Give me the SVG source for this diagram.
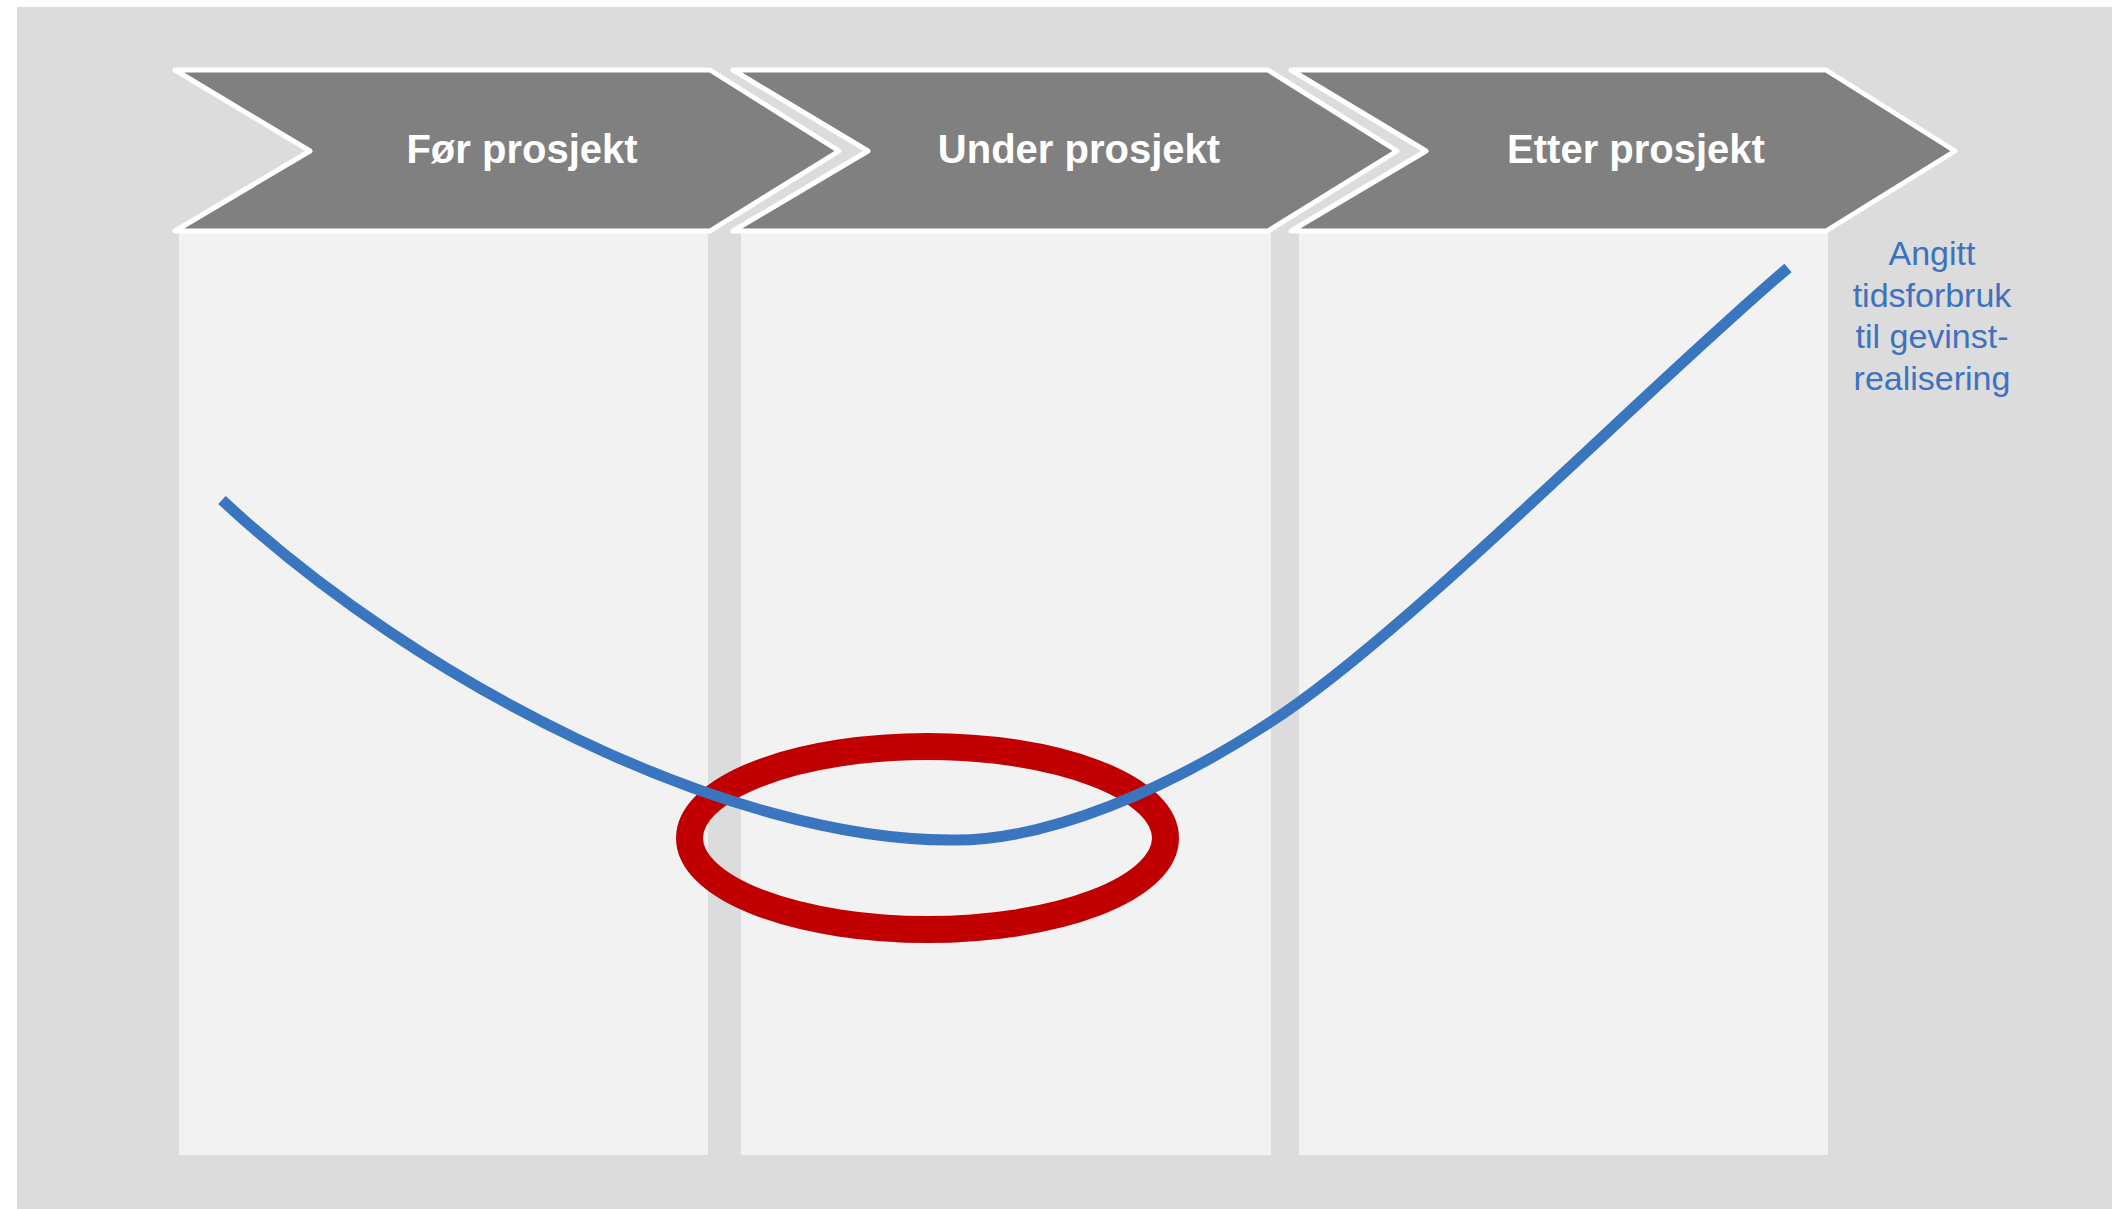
<svg xmlns="http://www.w3.org/2000/svg" width="2112" height="1209" viewBox="0 0 2112 1209">
<style>
.col{fill:#f2f2f2}
.chev{fill:#808080;stroke:#ffffff;stroke-width:5;stroke-linejoin:round}
.lbl{font-family:"Liberation Sans",Arial,sans-serif;font-weight:bold;font-size:40px;fill:#ffffff;text-anchor:middle}
.note{font-family:"Liberation Sans",Arial,sans-serif;font-size:34px;fill:#3d72c0;text-anchor:middle}
</style>
<rect x="0" y="0" width="2112" height="1209" fill="#ffffff"/>
<rect x="17" y="7" width="2095" height="1202" fill="#dcdcdc"/>
<g id="col1"><rect class="col" x="179" y="231" width="529" height="924"/></g>
<g id="col2"><rect class="col" x="741" y="231" width="530" height="924"/></g>
<g id="col3"><rect class="col" x="1299" y="231" width="529" height="924"/></g>
<g id="phase1">
<path class="chev" d="M175,70 L710,70 L839,151 L710,231 L175,231 L310,151 Z"/>
<text class="lbl" x="522" y="163">Før prosjekt</text>
</g>
<g id="phase2">
<path class="chev" d="M733,70 L1268,70 L1397,151 L1268,231 L733,231 L868,151 Z"/>
<text class="lbl" x="1079" y="163">Under prosjekt</text>
</g>
<g id="phase3">
<path class="chev" d="M1291,70 L1826,70 L1955,151 L1826,231 L1291,231 L1426,151 Z"/>
<text class="lbl" x="1636" y="163">Etter prosjekt</text>
</g>
<g id="highlight">
<ellipse cx="927.5" cy="838" rx="238" ry="91.5" fill="none" stroke="#c00000" stroke-width="27"/>
</g>
<g id="connectors">
<path d="M222,500 C420,685 730,840 950,840 C1045,842 1170,790 1284,713 C1420,620 1650,385 1788,268" fill="none" stroke="#3a76bf" stroke-width="11"/>
</g>
<g id="note">
<text class="note" x="1932" y="265">Angitt</text>
<text class="note" x="1932" y="307">tidsforbruk</text>
<text class="note" x="1932" y="348">til gevinst-</text>
<text class="note" x="1932" y="390">realisering</text>
</g>
</svg>
